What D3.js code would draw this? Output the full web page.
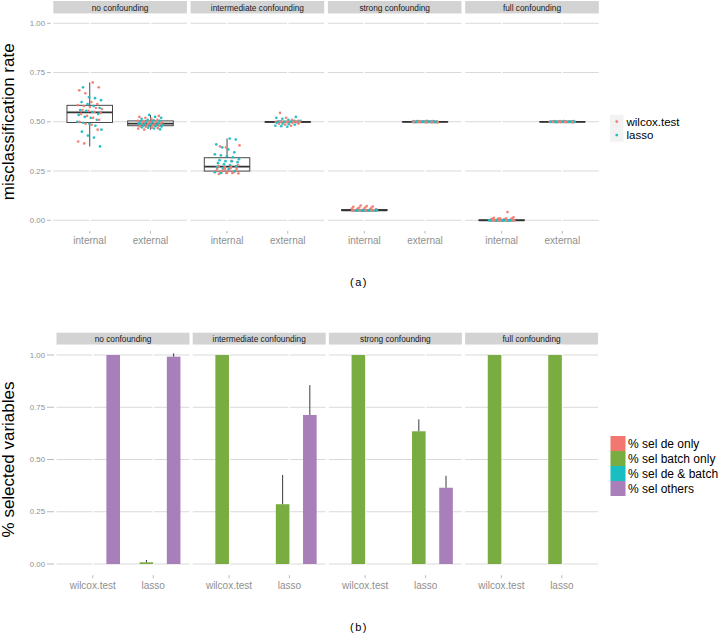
<!DOCTYPE html>
<html><head><meta charset="utf-8">
<script src="https://cdn.jsdelivr.net/npm/d3@7"></script>
<style>body{margin:0;background:#fff} svg{display:block;font-family:"Liberation Sans",Arial,Helvetica,sans-serif}</style>
</head><body><svg id="c" width="720" height="635"></svg>
<script>
// ---------- data ----------
const facets = ["no confounding","intermediate confounding","strong confounding","full confounding"];
const evalTypes = ["internal","external"];
const methods = ["wilcox.test","lasso"];
const yTicks = [0, 0.25, 0.5, 0.75, 1];
const yTickLabels = ["0.00","0.25","0.50","0.75","1.00"];
const selTypes = ["% sel de only","% sel batch only","% sel de & batch","% sel others"];

// misclassification rate per facet: [internal, external]
const wilcoxRates = [
  [[0.70,0.675,0.66,0.645,0.60,0.59,0.585,0.58,0.575,0.57,0.565,0.56,0.555,0.55,0.545,0.54,0.53,0.52,0.51,0.50,0.49,0.485,0.46,0.40,0.39],
   [0.53,0.525,0.52,0.515,0.51,0.505,0.503,0.50,0.50,0.497,0.495,0.493,0.49,0.49,0.488,0.485,0.483,0.48,0.478,0.475,0.47,0.468,0.465,0.46,0.50]],
  [[0.38,0.375,0.37,0.30,0.28,0.275,0.27,0.265,0.26,0.26,0.255,0.255,0.25,0.25,0.25,0.248,0.245,0.245,0.243,0.24,0.24,0.238,0.235,0.26,0.27],
   [0.545,0.52,0.51,0.505,0.502,0.50,0.50,0.50,0.50,0.50,0.50,0.50,0.50,0.50,0.50,0.50,0.50,0.50,0.498,0.495,0.49,0.49,0.485,0.48,0.50]],
  [[0.075,0.072,0.07,0.068,0.065,0.065,0.063,0.06,0.06,0.058,0.055,0.055,0.053,0.05,0.05,0.05,0.05,0.05,0.05,0.05,0.05,0.05,0.05,0.05,0.05],
   [0.505,0.504,0.503,0.503,0.502,0.502,0.501,0.50,0.50,0.50,0.50,0.50,0.50,0.50,0.50,0.50,0.50,0.499,0.499,0.498,0.498,0.497,0.497,0.496,0.50]],
  [[0.042,0.015,0.012,0.01,0.01,0.01,0.008,0.008,0.005,0.005,0.005,0,0,0,0,0,0,0,0,0,0,0,0,0,0],
   [0.504,0.503,0.503,0.502,0.502,0.501,0.501,0.50,0.50,0.50,0.50,0.50,0.50,0.50,0.50,0.50,0.50,0.499,0.499,0.498,0.498,0.497,0.50,0.50,0.50]]
];
const lassoRates = [
  [[0.675,0.625,0.62,0.61,0.60,0.59,0.58,0.57,0.56,0.555,0.55,0.54,0.535,0.525,0.52,0.51,0.50,0.495,0.49,0.48,0.46,0.45,0.43,0.42,0.375],
   [0.535,0.525,0.52,0.515,0.51,0.507,0.505,0.502,0.50,0.498,0.495,0.492,0.49,0.488,0.486,0.484,0.482,0.48,0.478,0.476,0.472,0.47,0.466,0.462,0.49]],
  [[0.415,0.41,0.385,0.37,0.36,0.345,0.335,0.33,0.325,0.32,0.31,0.305,0.30,0.30,0.295,0.29,0.285,0.28,0.275,0.27,0.265,0.26,0.25,0.245,0.24],
   [0.525,0.52,0.515,0.51,0.505,0.505,0.502,0.50,0.50,0.50,0.50,0.50,0.50,0.50,0.50,0.50,0.50,0.498,0.495,0.49,0.488,0.485,0.48,0.478,0.475]],
  [[0.055,0.052,0.05,0.05,0.05,0.05,0.05,0.05,0.05,0.05,0.05,0.05,0.05,0.05,0.05,0.05,0.05,0.05,0.05,0.05,0.05,0.05,0.05,0.05,0.05],
   [0.503,0.502,0.501,0.501,0.50,0.50,0.50,0.50,0.50,0.50,0.50,0.50,0.50,0.50,0.50,0.50,0.50,0.50,0.499,0.499,0.498,0.498,0.50,0.50,0.50]],
  [[0.005,0.003,0,0,0,0,0,0,0,0,0,0,0,0,0,0,0,0,0,0,0,0,0,0,0],
   [0.503,0.502,0.501,0.501,0.50,0.50,0.50,0.50,0.50,0.50,0.50,0.50,0.50,0.50,0.50,0.50,0.50,0.50,0.499,0.499,0.498,0.50,0.50,0.50,0.50]]
];

// % selected variables per facet: [de only, batch only, de & batch, others]
const wilcoxSelMean = [[0,0,0,1],[0,1,0,0],[0,1,0,0],[0,1,0,0]];
const wilcoxSelErr  = [[0,0,0,0],[0,0,0,0],[0,0,0,0],[0,0,0,0]];
const lassoSelMean  = [[0,0.008,0,0.992],[0,0.286,0,0.713],[0,0.635,0,0.365],[0,1,0,0]];
const lassoSelErr   = [[0,0.011,0,0.016],[0,0.14,0,0.143],[0,0.057,0,0.057],[0,0,0,0]];

// ---------- styles ----------
const methodColors = ["#F27D73","#1DBDC2"];
const selColors = ["#F2786F","#7AAD41","#19BDC2","#A87FB9"];
const gridCol = "#d9d9d9", tickTextCol = "#8f8f8f", stripFill = "#d3d3d3";

const svg = d3.select("#c");

function drawPanelFrame(g, x, y, yTop, yBot, cats) {
  // horizontal grid
  g.selectAll(null).data(yTicks).join("line")
    .attr("x1", x.range()[0]).attr("x2", x.range()[1])
    .attr("y1", d => y(d)).attr("y2", d => y(d))
    .attr("stroke", gridCol).attr("stroke-width", 1.1);
  // vertical white grid
  g.selectAll(null).data(cats).join("line")
    .attr("x1", d => x(d)).attr("x2", d => x(d))
    .attr("y1", yTop).attr("y2", yBot)
    .attr("stroke", "#fff").attr("stroke-width", 1.6);
}

function strip(label, x0, w, y0, h) {
  svg.append("rect").attr("x", x0).attr("y", y0).attr("width", w).attr("height", h).attr("fill", stripFill);
  svg.append("text").attr("x", x0 + w / 2).attr("y", y0 + h / 2 + 0.5)
    .attr("text-anchor", "middle").attr("dominant-baseline", "central")
    .attr("font-size", 8.3).attr("fill", "#1a1a1a").text(label);
}

function yAxis(y, left) {
  yTicks.forEach((t, i) => {
    svg.append("line").attr("x1", 47).attr("x2", left - 2.5).attr("y1", y(t)).attr("y2", y(t))
      .attr("stroke", "#a8a8a8").attr("stroke-width", 0.8);
    svg.append("text").attr("x", 45).attr("y", y(t)).attr("text-anchor", "end")
      .attr("dominant-baseline", "central").attr("font-size", 7.8).attr("fill", tickTextCol)
      .text(yTickLabels[i]);
  });
}

// ---------- (a) top panel ----------
const topY = d3.scaleLinear().domain([0, 1]).range([220.3, 23.3]);
const topPanelTop = topY(1.05), topPanelBot = topY(-0.05);
const topX0 = 53.3, topW = 133.6, topStep = 137.3;
yAxis(topY, topX0);

facets.forEach((f, fi) => {
  const x0 = topX0 + fi * topStep;
  const x = d3.scalePoint().domain(evalTypes).range([x0, x0 + topW]).padding(0.6);
  const unit = x.step();
  strip(f, x0, topW, 1, topPanelTop - 1);
  const g = svg.append("g");
  drawPanelFrame(g, x, topY, topPanelTop, topPanelBot, evalTypes);

  evalTypes.forEach((ev, ei) => {
    const cx = x(ev);
    const all = wilcoxRates[fi][ei].concat(lassoRates[fi][ei]).slice().sort(d3.ascending);
    const q1 = d3.quantile(all, 0.25), med = d3.quantile(all, 0.5), q3 = d3.quantile(all, 0.75);
    const iqr = q3 - q1;
    const lo = d3.min(all.filter(v => v >= q1 - 1.5 * iqr));
    const hi = d3.max(all.filter(v => v <= q3 + 1.5 * iqr));
    const bw = 0.75 * unit;
    g.append("line").attr("x1", cx).attr("x2", cx).attr("y1", topY(hi)).attr("y2", topY(q3))
      .attr("stroke", "#333").attr("stroke-width", 0.9);
    g.append("line").attr("x1", cx).attr("x2", cx).attr("y1", topY(q1)).attr("y2", topY(lo))
      .attr("stroke", "#333").attr("stroke-width", 0.9);
    g.append("rect").attr("x", cx - bw / 2).attr("width", bw)
      .attr("y", topY(q3)).attr("height", Math.max(topY(q1) - topY(q3), 0.01))
      .attr("fill", "#fff").attr("stroke", "#333").attr("stroke-width", 0.9);
    g.append("line").attr("x1", cx - bw / 2).attr("x2", cx + bw / 2).attr("y1", topY(med)).attr("y2", topY(med))
      .attr("stroke", "#333").attr("stroke-width", 1.8);

    // jittered points (interleaved wilcox / lasso)
    const pts = [];
    const n = Math.max(wilcoxRates[fi][ei].length, lassoRates[fi][ei].length);
    for (let i = 0; i < n; i++) {
      if (i < wilcoxRates[fi][ei].length) pts.push({v: wilcoxRates[fi][ei][i], m: 0});
      if (i < lassoRates[fi][ei].length) pts.push({v: lassoRates[fi][ei][i], m: 1});
    }
    g.selectAll(null).data(pts).join("circle")
      .attr("cx", (d, i) => cx + ((((i + 1) * 0.6180339 + fi * 0.37 + ei * 0.21) % 1) - 0.5) * 0.42 * unit)
      .attr("cy", d => topY(d.v))
      .attr("r", 1.35)
      .attr("fill", d => methodColors[d.m]).attr("fill-opacity", 0.95);
  });

  // x ticks
  evalTypes.forEach(ev => {
    svg.append("line").attr("x1", x(ev)).attr("x2", x(ev)).attr("y1", topPanelBot + 0.8).attr("y2", topPanelBot + 3.5)
      .attr("stroke", "#a8a8a8").attr("stroke-width", 0.8);
    svg.append("text").attr("x", x(ev)).attr("y", 240).attr("text-anchor", "middle")
      .attr("dominant-baseline", "central").attr("font-size", 10).attr("fill", tickTextCol).text(ev);
  });
});

svg.append("text").attr("transform", `translate(14,${(topPanelTop + topPanelBot) / 2}) rotate(-90)`)
  .attr("text-anchor", "middle").attr("font-size", 17).attr("fill", "#000").text("misclassification rate");

// top legend
methods.forEach((m, i) => {
  const ky = 114.8 + i * 13.5;
  svg.append("rect").attr("x", 610).attr("y", ky).attr("width", 13.5).attr("height", 13.5).attr("fill", "#f2f2f2");
  svg.append("circle").attr("cx", 616.75).attr("cy", ky + 6.75).attr("r", 1.4).attr("fill", methodColors[i]);
  svg.append("text").attr("x", 626.5).attr("y", ky + 6.9).attr("dominant-baseline", "central")
    .attr("font-size", 11.5).attr("fill", "#000").text(m);
});

svg.append("text").attr("x", 359).attr("y", 282).attr("text-anchor", "middle").attr("dominant-baseline", "central")
  .attr("font-size", 11).attr("letter-spacing", 1.5).attr("fill", "#000").text("(a)");

// ---------- (b) bottom panel ----------
const botY = d3.scaleLinear().domain([0, 1]).range([564, 355]);
const botPanelTop = botY(1.05), botPanelBot = botY(-0.05);
const botX0 = 56.5, botW = 133, botStep = 136.2;
yAxis(botY, botX0);

facets.forEach((f, fi) => {
  const x0 = botX0 + fi * botStep;
  const x = d3.scalePoint().domain(methods).range([x0, x0 + botW]).padding(0.6);
  const unit = x.step();
  const sub = d3.scaleBand().domain(selTypes).range([-0.45 * unit, 0.45 * unit]);
  strip(f, x0, botW, 332.7, botPanelTop - 332.7);
  const g = svg.append("g");
  drawPanelFrame(g, x, botY, botPanelTop, botPanelBot, methods);

  methods.forEach((m, mi) => {
    const means = mi === 0 ? wilcoxSelMean[fi] : lassoSelMean[fi];
    const errs = mi === 0 ? wilcoxSelErr[fi] : lassoSelErr[fi];
    selTypes.forEach((s, si) => {
      if (means[si] <= 0) return;
      const bx = x(m) + sub(s);
      g.append("rect").attr("x", bx).attr("width", sub.bandwidth())
        .attr("y", botY(means[si])).attr("height", botY(0) - botY(means[si]))
        .attr("fill", selColors[si]);
      if (errs[si] > 0) {
        const ex = bx + sub.bandwidth() / 2;
        g.append("line").attr("x1", ex).attr("x2", ex)
          .attr("y1", botY(means[si])).attr("y2", botY(means[si] + errs[si]))
          .attr("stroke", "#3a3a3a").attr("stroke-width", 1);
      }
    });
  });

  methods.forEach(m => {
    svg.append("line").attr("x1", x(m)).attr("x2", x(m)).attr("y1", botPanelBot + 0.8).attr("y2", botPanelBot + 3.8)
      .attr("stroke", "#a8a8a8").attr("stroke-width", 0.8);
    svg.append("text").attr("x", x(m)).attr("y", 585).attr("text-anchor", "middle")
      .attr("dominant-baseline", "central").attr("font-size", 10).attr("fill", tickTextCol).text(m);
  });
});

svg.append("text").attr("transform", `translate(14,${(botPanelTop + botPanelBot) / 2}) rotate(-90)`)
  .attr("text-anchor", "middle").attr("font-size", 17).attr("fill", "#000").text("% selected variables");

selTypes.forEach((s, i) => {
  const ky = 436 + i * 15;
  svg.append("rect").attr("x", 610.5).attr("y", ky).attr("width", 15).attr("height", 15).attr("fill", selColors[i]);
  svg.append("text").attr("x", 628).attr("y", ky + 7.6).attr("dominant-baseline", "central")
    .attr("font-size", 12).attr("fill", "#000").text(s);
});

svg.append("text").attr("x", 359).attr("y", 627).attr("text-anchor", "middle").attr("dominant-baseline", "central")
  .attr("font-size", 11).attr("letter-spacing", 1.5).attr("fill", "#000").text("(b)");
</script></body></html>
